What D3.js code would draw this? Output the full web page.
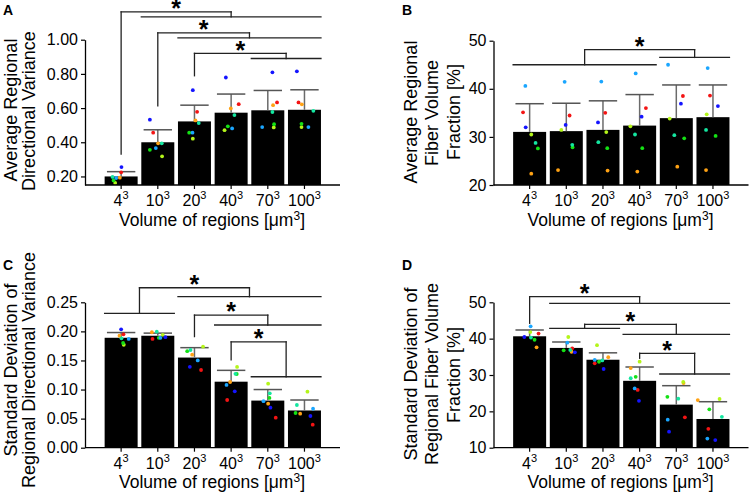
<!DOCTYPE html>
<html><head><meta charset="utf-8">
<script src="https://cdn.jsdelivr.net/npm/d3@7"></script>
<style>
html,body{margin:0;padding:0;background:#fff;}
svg{display:block;font-family:"Liberation Sans",Arial,Helvetica,sans-serif;}
</style></head><body>
<svg id="fig" width="751" height="493"></svg>
<script>
// ---------------- DATA ----------------
const categories = ["4", "10", "20", "40", "70", "100"];
const sampleNames = ["red", "orange", "yellowgreen", "green", "springgreen", "skyblue", "blue"];
const sampleColors = ["#f31414", "#ffa214", "#b4f51a", "#14e114", "#14e6a0", "#1aa6ff", "#1414ff"];

// Panel A: Average Regional Directional Variance
const meanA = [0.200, 0.400, 0.522, 0.573, 0.587, 0.590];
const sdA   = [0.028, 0.073, 0.095, 0.109, 0.116, 0.117];
const pointsA = [
  [0.224, 0.456, 0.578, 0.623, 0.633, 0.633],
  [0.193, 0.394, 0.528, 0.598, 0.617, 0.622],
  [0.162, 0.318, 0.421, 0.471, 0.487, 0.489],
  [0.177, 0.356, 0.456, 0.493, 0.506, 0.508],
  [0.197, 0.394, 0.512, 0.559, 0.577, 0.584],
  [0.191, 0.366, 0.456, 0.481, 0.489, 0.489],
  [0.255, 0.532, 0.705, 0.779, 0.809, 0.815]
];
const jitterA = [
  [0.00, -0.14, 0.08, 0.23, 0.28, -0.18],
  [-0.04, 0.01, 0.03, -0.01, 0.16, -0.08],
  [-0.18, 0.13, -0.05, -0.20, 0.18, -0.09],
  [-0.23, -0.24, -0.16, -0.10, 0.19, -0.09],
  [-0.26, 0.12, 0.13, 0.10, 0.14, 0.27],
  [-0.15, -0.06, -0.06, 0.03, -0.17, 0.12],
  [0.01, -0.24, -0.05, -0.16, 0.14, -0.23]
];
const ticksA = [0.20, 0.40, 0.60, 0.80, 1.00];
const bracketsA = [
  {a: [0, 0], b: [1, 5], top: 1.163, aY: 0.331, bY: 1.134},
  {a: [1, 1], b: [2, 5], top: 1.040, aY: 0.613, bY: 1.011},
  {a: [2, 2], b: [4, 5], top: 0.920, aY: 0.789, bY: 0.890}
];

// Panel B: Average Regional Fiber Volume Fraction [%]
const meanB = [31.04, 31.2, 31.46, 32.35, 33.9, 34.1];
const sdB   = [5.86, 5.8, 6.04, 6.45, 6.9, 6.7];
const pointsB = [
  [35.1, 34.45, 35.0, 36.0, 38.5, 38.6],
  [22.35, 23.1, 23.0, 22.8, 23.8, 23.1],
  [30.5, 31.45, 31.0, 32.2, 33.8, 34.7],
  [27.6, 27.85, 27.65, 27.65, 29.7, 30.2],
  [28.75, 28.35, 28.9, 30.5, 30.35, 31.45],
  [40.6, 41.45, 41.5, 43.2, 45.0, 44.3],
  [32.0, 32.5, 33.0, 34.2, 36.9, 36.4]
];
const jitterB = [
  [-0.20, 0.10, 0.07, 0.19, 0.20, -0.09],
  [0.05, -0.25, 0.14, -0.07, 0.03, -0.21],
  [0.05, -0.15, 0.10, -0.28, -0.20, -0.19],
  [0.25, 0.19, 0.13, 0.08, 0.24, 0.08],
  [0.18, 0.18, -0.14, -0.14, -0.06, -0.21],
  [-0.13, -0.05, -0.05, -0.12, -0.25, -0.16],
  [-0.12, -0.02, -0.15, 0.06, 0.14, 0.15]
];
const ticksB = [20, 30, 40, 50];
const bracketsB = [
  {a: [0, 3], b: [4, 5], top: 48.125, aY: 45.0, bY: 46.52}
];

// Panel C: Standard Deviation of Regional Directional Variance
const meanC = [0.189, 0.1925, 0.155, 0.1135, 0.081, 0.064];
const sdC   = [0.009, 0.0045, 0.017, 0.0195, 0.019, 0.018];
const pointsC = [
  [0.195, 0.187, 0.1336, 0.082, 0.0516, 0.0396],
  [0.1926, 0.1985, 0.160, 0.113, 0.0757, 0.0585],
  [0.177, 0.194, 0.1737, 0.1388, 0.110, 0.0963],
  [0.180, 0.189, 0.166, 0.1267, 0.0855, 0.0597],
  [0.188, 0.1995, 0.168, 0.127, 0.0935, 0.0734],
  [0.187, 0.189, 0.150, 0.108, 0.080, 0.067],
  [0.2035, 0.190, 0.139, 0.097, 0.0688, 0.0545]
];
const jitterC = [
  [0.07, -0.16, 0.20, -0.12, 0.24, 0.25],
  [-0.05, -0.18, -0.07, -0.03, 0.01, -0.13],
  [0.08, 0.15, 0.26, 0.18, 0.01, 0.09],
  [0.06, 0.03, -0.22, 0.17, 0.05, -0.27],
  [0.01, -0.03, -0.12, 0.13, 0.06, -0.23],
  [0.23, 0.08, 0.10, -0.14, -0.13, 0.26],
  [0.00, 0.23, -0.14, 0.11, 0.08, 0.18]
];
const ticksC = [0.00, 0.05, 0.10, 0.15, 0.20, 0.25];
const bracketsC = [
  {a: [0, 1], b: [2, 5], top: 0.275, aY: 0.231, bY: 0.2596},
  {a: [2, 2], b: [3, 5], top: 0.228, aY: 0.191, bY: 0.211},
  {a: [3, 3], b: [4, 5], top: 0.182, aY: 0.151, bY: 0.122}
];

// Panel D: Standard Deviation of Regional Fiber Volume Fraction [%]
const meanD = [40.65, 37.45, 34.2, 28.4, 21.85, 17.9];
const sdD   = [1.73, 1.63, 1.9, 3.8, 5.21, 4.75];
const pointsD = [
  [41.4, 37.35, 33.2, 25.9, 18.35, 15.2],
  [37.6, 36.4, 34.9, 31.9, 27.8, 23.1],
  [41.8, 40.45, 38.2, 33.66, 28.1, 23.4],
  [39.7, 36.8, 33.65, 29.5, 24.0, 20.55],
  [40.3, 36.9, 34.0, 29.1, 23.5, 18.5],
  [43.4, 38.9, 34.15, 26.3, 17.7, 12.5],
  [40.45, 36.25, 31.65, 22.9, 14.4, 12.1]
];
const jitterD = [
  [0.27, 0.18, -0.25, -0.06, 0.26, -0.14],
  [0.21, 0.16, 0.16, -0.27, 0.22, -0.46],
  [0.02, 0.06, -0.18, 0.00, 0.21, 0.20],
  [0.15, -0.08, -0.12, -0.12, -0.27, -0.11],
  [0.04, 0.12, -0.02, -0.27, 0.06, 0.27],
  [0.03, 0.03, -0.25, -0.15, -0.26, -0.17],
  [-0.16, 0.26, 0.02, -0.02, -0.22, 0.07]
];
const ticksD = [10, 20, 30, 40, 50];
const bracketsD = [
  {a: [0, 0], b: [1, 5], top: 51.54, aY: 44.22, bY: 49.72},
  {a: [1, 2], b: [3, 5], top: 43.95, aY: 42.85, bY: 41.2},
  {a: [3, 3], b: [4, 5], top: 35.97, aY: 34.6, bY: 30.27}
];

const xTitle = "Volume of regions [μm";

// ---------------- DRAW ----------------
const svg = d3.select("#fig");

function drawPanel(cfg) {
  const g = svg.append("g");
  const y = d3.scaleLinear().domain(cfg.domain).range([cfg.y0, cfg.y1]);
  const x = d3.scaleBand().domain(categories)
    .range([cfg.axisX + 17.8, cfg.axisX + 237.8])
    .paddingInner(0.1).paddingOuter(0.05);
  const bw = x.bandwidth();
  const cx = i => x(categories[i]) + bw / 2;

  // bars
  g.selectAll("rect.bar").data(cfg.mean).join("rect")
    .attr("class", "bar")
    .attr("x", (d, i) => x(categories[i]))
    .attr("y", d => y(d))
    .attr("width", bw)
    .attr("height", d => cfg.y0 - y(d))
    .attr("fill", "#000");

  // error bars (upper)
  const eb = g.selectAll("g.eb").data(cfg.mean).join("g").attr("class", "eb");
  eb.append("line")
    .attr("x1", (d, i) => cx(i)).attr("x2", (d, i) => cx(i))
    .attr("y1", d => y(d)).attr("y2", (d, i) => y(d + cfg.sd[i]))
    .attr("stroke", "#6b6b6b").attr("stroke-width", 1.5);
  eb.append("line")
    .attr("x1", (d, i) => cx(i) - bw * 0.43).attr("x2", (d, i) => cx(i) + bw * 0.43)
    .attr("y1", (d, i) => y(d + cfg.sd[i])).attr("y2", (d, i) => y(d + cfg.sd[i]))
    .attr("stroke", "#555").attr("stroke-width", 1.5);

  // points
  const pts = [];
  cfg.points.forEach((row, s) => row.forEach((v, i) => pts.push({s, i, v, j: cfg.jitter[s][i]})));
  g.selectAll("circle.pt").data(pts).join("circle")
    .attr("class", "pt")
    .attr("cx", d => cx(d.i) + d.j * bw)
    .attr("cy", d => y(d.v))
    .attr("r", 1.9)
    .attr("fill", d => sampleColors[d.s]);

  // y axis
  const ya = g.append("g").attr("transform", `translate(${cfg.axisX},0)`)
    .call(d3.axisLeft(y).tickValues(cfg.ticks).tickFormat(d3.format(cfg.fmt))
      .tickSize(4).tickSizeOuter(0).tickPadding(3));
  ya.select(".domain").attr("stroke", "#000").attr("stroke-width", 1.3);
  ya.selectAll(".tick line").attr("stroke", "#000").attr("stroke-width", 1.2);
  ya.selectAll(".tick text").attr("font-size", 16).attr("fill", "#000")
    .attr("font-family", "Liberation Sans, Arial, sans-serif");

  // x axis
  g.append("line").attr("x1", cfg.axisX).attr("x2", cfg.axisX + 255)
    .attr("y1", cfg.y0).attr("y2", cfg.y0).attr("stroke", "#000").attr("stroke-width", 1.3);
  const xa = g.append("g").attr("transform", `translate(0,${cfg.y0})`)
    .call(d3.axisBottom(x).tickSize(4).tickSizeOuter(0).tickFormat(""));
  xa.select(".domain").remove();
  xa.selectAll(".tick line").attr("stroke", "#000").attr("stroke-width", 1.2);
  xa.selectAll(".tick text").remove();
  categories.forEach((c, i) => {
    const t = g.append("text").attr("x", cx(i)).attr("y", cfg.y0 + 21)
      .attr("text-anchor", "middle").attr("font-size", 16).attr("fill", "#000");
    t.append("tspan").text(c);
    t.append("tspan").attr("font-size", 11).attr("dy", -7).text("3");
  });
  const xt = g.append("text").attr("x", cfg.axisX + 127).attr("y", cfg.y0 + 40.5)
    .attr("text-anchor", "middle").attr("font-size", 17.5).attr("fill", "#000");
  xt.append("tspan").text(xTitle);
  xt.append("tspan").attr("font-size", 12).attr("dy", -6).text("3");
  xt.append("tspan").attr("dy", 6).text("]");

  // y title
  cfg.title.forEach(t => {
    g.append("text")
      .attr("transform", `translate(${t.x},${t.cy}) rotate(-90)`)
      .attr("text-anchor", "middle").attr("font-size", 18).attr("fill", "#000")
      .text(t.text);
  });

  // panel label
  g.append("text").attr("x", cfg.labelX).attr("y", cfg.labelY)
    .attr("font-size", 14).attr("font-weight", "bold").attr("fill", "#000").text(cfg.label);

  // significance brackets
  const groupX = r => r[0] === r[1] ? cx(r[0]) : (x(categories[r[0]]) + x(categories[r[1]]) + bw) / 2;
  const aFs = 25;
  cfg.brackets.forEach(b => {
    const ax = groupX(b.a), bx = groupX(b.b), yt = y(b.top);
    const segs = [
      [ax, yt, bx, yt],
      [ax, yt, ax, y(b.aY)],
      [bx, yt, bx, y(b.bY)]
    ];
    [[b.a, b.aY], [b.b, b.bY]].forEach(([r, lv]) => {
      if (r[0] !== r[1]) segs.push([x(categories[r[0]]), y(lv), x(categories[r[1]]) + bw, y(lv)]);
    });
    g.selectAll(null).data(segs).join("line")
      .attr("x1", d => d[0]).attr("y1", d => d[1]).attr("x2", d => d[2]).attr("y2", d => d[3])
      .attr("stroke", "#222").attr("stroke-width", 1.3).attr("stroke-linecap", "square");
    g.append("text").attr("x", (ax + bx) / 2).attr("y", yt - 3 + 0.33 * aFs)
      .attr("text-anchor", "middle").attr("font-size", aFs).attr("font-weight", "bold")
      .attr("fill", "#000").text("*");
  });
}

drawPanel({
  label: "A", labelX: 3, labelY: 15, axisX: 85, y0: 185, y1: 39.7, domain: [0.15, 1.0],
  mean: meanA, sd: sdA, points: pointsA, jitter: jitterA, ticks: ticksA, fmt: ".2f",
  brackets: bracketsA,
  title: [{text: "Average Regional", x: 16.5, cy: 110}, {text: "Directional Variance", x: 35, cy: 111}]
});
drawPanel({
  label: "B", labelX: 402, labelY: 15, axisX: 493.5, y0: 185, y1: 40.7, domain: [20, 50],
  mean: meanB, sd: sdB, points: pointsB, jitter: jitterB, ticks: ticksB, fmt: "d",
  brackets: bracketsB,
  title: [{text: "Average Regional", x: 416.5, cy: 112}, {text: "Fiber Volume", x: 438, cy: 113},
          {text: "Fraction [%]", x: 459.5, cy: 112}]
});
drawPanel({
  label: "C", labelX: 3, labelY: 270, axisX: 85, y0: 447.7, y1: 302.3, domain: [0, 0.25],
  mean: meanC, sd: sdC, points: pointsC, jitter: jitterC, ticks: ticksC, fmt: ".2f",
  brackets: bracketsC,
  title: [{text: "Standard Deviation of", x: 16.5, cy: 370}, {text: "Regional Directional Variance", x: 35, cy: 370}]
});
drawPanel({
  label: "D", labelX: 402, labelY: 270, axisX: 493.5, y0: 447.7, y1: 302.3, domain: [10, 50],
  mean: meanD, sd: sdD, points: pointsD, jitter: jitterD, ticks: ticksD, fmt: "d",
  brackets: bracketsD,
  title: [{text: "Standard Deviation of", x: 416.5, cy: 374}, {text: "Regional Fiber Volume", x: 438, cy: 374},
          {text: "Fraction [%]", x: 459.5, cy: 375}]
});
</script>
</body></html>
